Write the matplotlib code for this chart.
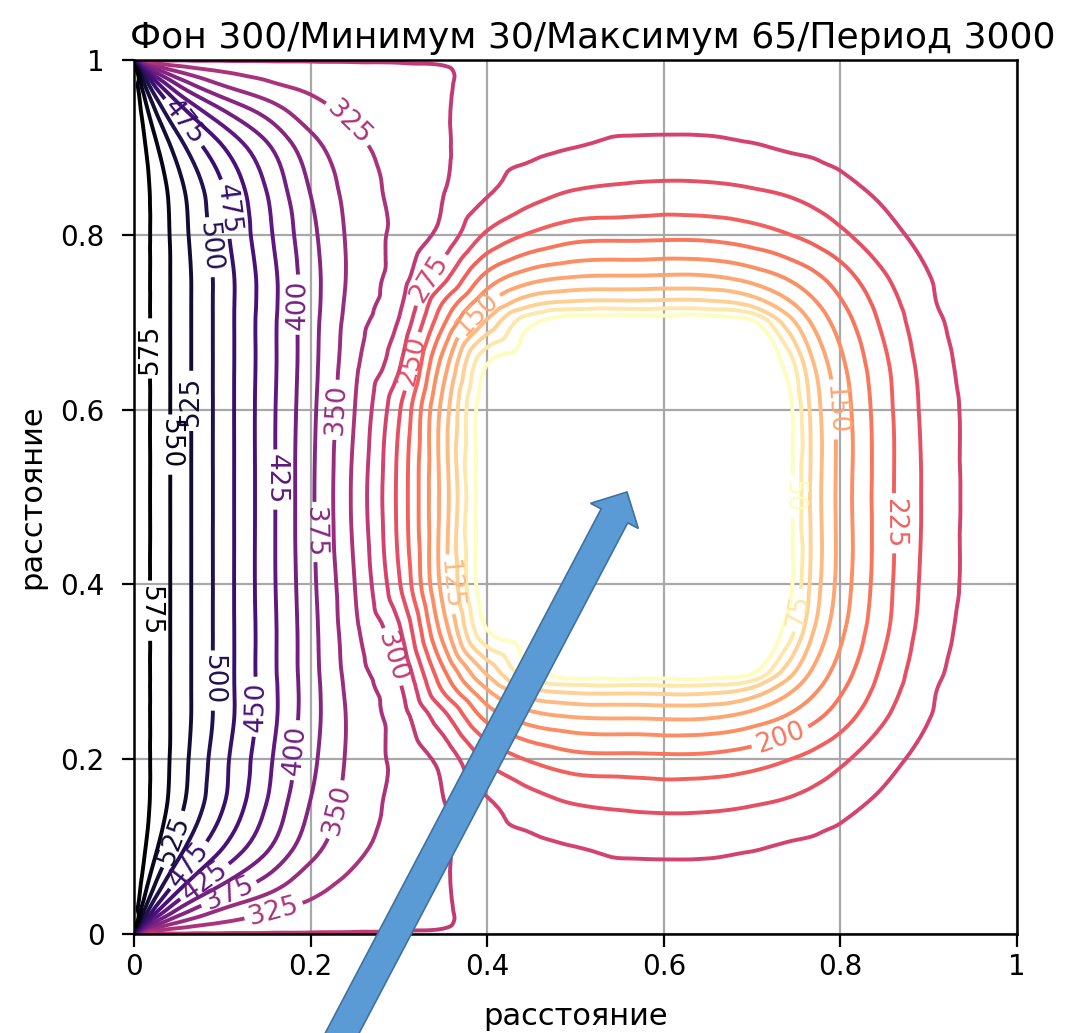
import numpy as np
import matplotlib
matplotlib.use("Agg")
import matplotlib.pyplot as plt
import matplotlib.tri as mtri
from matplotlib.patches import FancyArrow
from matplotlib.ticker import FormatStrFormatter

title = "Фон 300/Минимум 30/Максимум 65/Период 3000"
x_label = "расстояние"
y_label = "расстояние"

x_nodes = [0, 0.01, 0.03, 0.06, 0.1, 0.15, 0.2, 0.25, 0.3, 0.35, 0.4, 0.45,
           0.5, 0.57, 0.65, 0.7, 0.74, 0.77, 0.8, 0.85, 0.9, 0.95, 1.0]
y_nodes = [0, 0.01, 0.03, 0.06, 0.1, 0.15, 0.2, 0.25, 0.28, 0.3, 0.35, 0.4,
           0.5, 0.6, 0.65, 0.7, 0.72, 0.75, 0.8, 0.85, 0.9, 0.94, 0.97, 0.99, 1.0]

# values, one row per y node (bottom to top)
field = [
    [450, 298, 298, 298, 298, 298, 298, 298, 298, 298, 298, 298, 298, 298, 298, 298, 298, 298, 298, 298, 298, 298, 298],
    [600, 452, 362, 332, 319, 313, 309, 306, 304, 301, 296, 296, 296, 296, 296, 296, 296, 297, 297, 297, 297, 298, 298],
    [600, 540, 452, 388, 352, 331, 320, 314, 308, 302, 293, 292, 292, 292, 292, 291, 292, 293, 293, 295, 296, 297, 298],
    [600, 569, 512, 452, 405, 368, 336, 320, 309, 302, 289, 287, 285, 285, 285, 284, 286, 287, 288, 291, 293, 296, 298],
    [600, 581, 545, 498, 452, 405, 360, 331, 316, 303, 285, 280, 275, 269, 269, 273, 277, 279, 281, 285, 291, 295, 298],
    [600, 585, 560, 522, 478, 425, 374, 339, 318, 301, 278, 260, 249, 244, 244, 248, 253, 259, 268, 279, 287, 292, 298],
    [600, 585, 562, 527, 483, 432, 382, 342, 318, 292, 246, 222, 209, 207, 207, 214, 224, 233, 245, 267, 282, 289, 298],
    [600, 585, 562, 530, 489, 438, 386, 342, 312, 257, 190, 158, 147, 145, 145, 158, 176, 193, 212, 247, 274, 286, 298],
    [600, 585, 562, 530, 489, 438, 386, 339, 305, 222, 150, 103, 90, 89, 89, 105, 142, 170, 196, 236, 271, 286, 298],
    [600, 585, 562, 530, 489, 437, 385, 336, 298, 205, 120, 55, 30, 30, 30, 45, 112, 155, 186, 231, 267, 285, 298],
    [600, 585, 562, 530, 489, 437, 384, 330, 278, 163, 48, 30, 30, 30, 30, 30, 58, 124, 168, 220, 261, 283, 298],
    [600, 585, 562, 530, 489, 436, 382, 325, 253, 141, 30, 30, 30, 30, 30, 30, 40, 111, 159, 216, 258, 281, 298],
    [600, 585, 562, 530, 489, 436, 380, 319, 244, 140, 30, 30, 30, 30, 30, 30, 40, 110, 158, 215, 256, 281, 298],
    [600, 585, 562, 530, 489, 436, 382, 325, 253, 141, 30, 30, 30, 30, 30, 30, 40, 111, 159, 216, 258, 281, 298],
    [600, 585, 562, 530, 489, 437, 384, 330, 278, 163, 48, 30, 30, 30, 30, 30, 58, 124, 168, 220, 261, 283, 298],
    [600, 585, 562, 530, 489, 437, 385, 336, 298, 205, 120, 55, 30, 30, 30, 45, 112, 155, 186, 231, 267, 285, 298],
    [600, 585, 562, 530, 489, 438, 386, 339, 305, 222, 150, 103, 90, 89, 89, 105, 142, 170, 196, 236, 271, 286, 298],
    [600, 585, 562, 530, 489, 438, 386, 342, 312, 257, 190, 158, 147, 145, 145, 158, 176, 193, 212, 247, 274, 286, 298],
    [600, 585, 562, 527, 483, 432, 382, 342, 318, 292, 246, 222, 209, 207, 207, 214, 224, 233, 245, 267, 282, 289, 298],
    [600, 585, 560, 522, 478, 425, 374, 339, 318, 301, 278, 260, 249, 244, 244, 248, 253, 259, 268, 279, 287, 292, 298],
    [600, 581, 545, 498, 452, 405, 360, 331, 316, 303, 285, 280, 275, 269, 269, 273, 277, 279, 281, 285, 291, 295, 298],
    [600, 569, 512, 452, 405, 368, 336, 320, 309, 302, 289, 287, 285, 285, 285, 284, 286, 287, 288, 291, 293, 296, 298],
    [600, 540, 452, 388, 352, 331, 320, 314, 308, 302, 293, 292, 292, 292, 292, 291, 292, 293, 293, 295, 296, 297, 298],
    [600, 452, 362, 332, 319, 313, 309, 306, 304, 301, 296, 296, 296, 296, 296, 296, 296, 297, 297, 297, 297, 298, 298],
    [450, 298, 298, 298, 298, 298, 298, 298, 298, 298, 298, 298, 298, 298, 298, 298, 298, 298, 298, 298, 298, 298, 298],
]

levels = [50, 75, 100, 125, 150, 175, 200, 225, 250, 275, 300, 325, 350,
          375, 400, 425, 450, 475, 500, 525, 550, 575]

tick_values = [0, 0.2, 0.4, 0.6, 0.8, 1.0]

label_spots = [
    (0.245, 0.93), (0.053, 0.926), (0.11, 0.83), (0.08, 0.785), (0.19, 0.72),
    (0.018, 0.67), (0.07, 0.61), (0.045, 0.56), (0.16, 0.52), (0.225, 0.60),
    (0.205, 0.46), (0.017, 0.37), (0.09, 0.29), (0.137, 0.26), (0.185, 0.21),
    (0.24, 0.14), (0.30, 0.32), (0.16, 0.02), (0.11, 0.04), (0.08, 0.06),
    (0.06, 0.08), (0.04, 0.11), (0.316, 0.655), (0.34, 0.745), (0.392, 0.705),
    (0.357, 0.40), (0.79, 0.60), (0.745, 0.50), (0.862, 0.47), (0.757, 0.37),
    (0.73, 0.23),
]

plt.rcParams["font.family"] = ["DejaVu Sans"]

fig = plt.figure(figsize=(10.86, 10.33), dpi=100)
ax = fig.add_axes([0.1234, 0.0958, 0.8131, 0.8461])

# triangulate the read grid (two triangles per cell, diagonals mirrored
# about the middle row) and let matplotlib's tri refiner draw smooth contours
X, Y = np.meshgrid(x_nodes, y_nodes)
Z = np.array(field, dtype=float)
ny, nx = Z.shape
tris = []
for j in range(ny - 1):
    upper = y_nodes[j] >= 0.5
    for i in range(nx - 1):
        a = j * nx + i
        b = a + 1
        c = a + nx
        d = c + 1
        if upper:
            tris.append([a, b, c])
            tris.append([b, d, c])
        else:
            tris.append([a, b, d])
            tris.append([a, d, c])
triang = mtri.Triangulation(X.ravel(), Y.ravel(), np.array(tris))
interp = mtri.CubicTriInterpolator(triang, Z.ravel(), kind="geom")
refiner = mtri.UniformTriRefiner(triang)
tri_f, z_f = refiner.refine_field(Z.ravel(), triinterpolator=interp, subdiv=3)

cs = ax.tricontour(tri_f, z_f, levels=levels, cmap="magma_r", linewidths=2.8)
ax.clabel(cs, levels, inline=True, fmt="%d", fontsize=19, manual=label_spots)

ax.set_xlim(0, 1)
ax.set_ylim(0, 1)
ax.set_xticks(tick_values)
ax.set_yticks(tick_values)
ax.xaxis.set_major_formatter(FormatStrFormatter("%g"))
ax.yaxis.set_major_formatter(FormatStrFormatter("%g"))
ax.tick_params(labelsize=20, length=9, width=1.6, pad=5)
ax.tick_params(axis="y", pad=12)
for s in ax.spines.values():
    s.set_linewidth(1.8)
ax.grid(True, color="#a8a8a8", linewidth=1.6)
ax.set_xlabel(x_label, fontsize=22, labelpad=15)
ax.set_ylabel(y_label, fontsize=22, labelpad=10)
ax.set_title(title, fontsize=26, pad=9, x=0.52)

arrow = FancyArrow(3.37, -0.1, 2.90, 5.51, width=0.3, head_width=0.54,
                   head_length=0.27, length_includes_head=True,
                   transform=fig.dpi_scale_trans, facecolor="#5B9BD5",
                   edgecolor="#41719C", linewidth=1.2, zorder=10, clip_on=False)
fig.add_artist(arrow)

fig.savefig("out.png", dpi=100)
